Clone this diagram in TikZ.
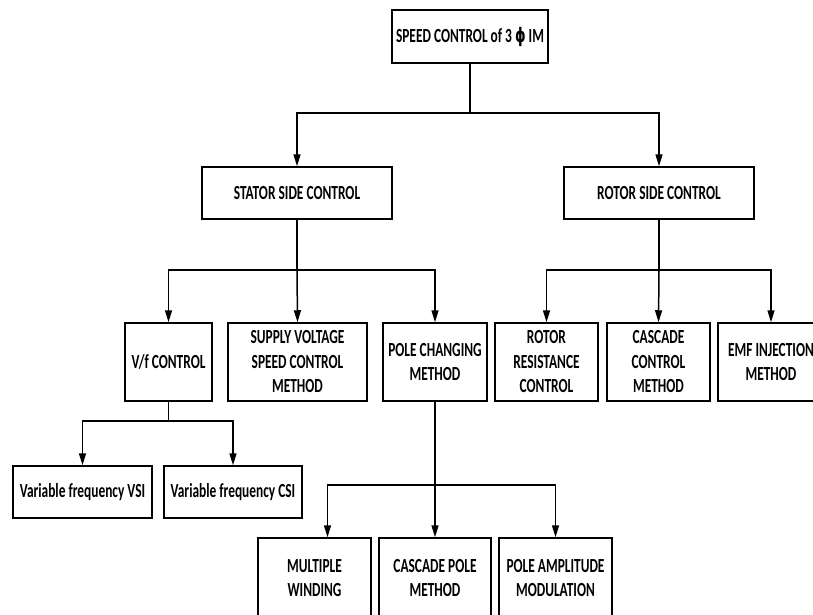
\documentclass[tikz,border=0pt]{standalone}
\usepackage{fontspec}
\usetikzlibrary{arrows.meta}
\newfontfamily\boxfont{Carlito}[FakeStretch=0.67]
\newfontfamily\symfont{DejaVu Sans}[FakeStretch=0.67]
\tikzset{
  box/.style={draw, line width=1.5pt, fill=white, align=center, inner sep=1pt,
    font=\boxfont\bfseries\fontsize{20}{24.5}\selectfont},
  link/.style={line width=1.5pt},
  arr/.style={link, -{Triangle[length=12pt,width=7pt]}}
}
\begin{document}
\begin{tikzpicture}[x=1pt,y=-1pt]
\useasboundingbox (0,0) rectangle (813,615);
\clip (0,0) rectangle (813,615);
\fill[white] (0,0) rectangle (813,615);

% root
\node[box, minimum width=156pt, minimum height=53pt] (root) at (470,36.5) {SPEED CONTROL of 3 {\symfont\bfseries ϕ} IM};

% two main branches
\node[box, minimum width=190pt, minimum height=52pt] (stator) at (297,193) {STATOR SIDE CONTROL};
\node[box, minimum width=190pt, minimum height=52pt] (rotor) at (659,193) {ROTOR SIDE CONTROL};

% stator side methods
\node[box, minimum width=87pt, minimum height=78pt] (vf) at (168.5,362) {V/f CONTROL};
\node[box, minimum width=139pt, minimum height=78pt] (supply) at (297.5,362) {SUPPLY VOLTAGE\\SPEED CONTROL\\METHOD};
\node[box, minimum width=104pt, minimum height=78pt] (pole) at (435,362) {POLE CHANGING\\METHOD};

% rotor side methods
\node[box, minimum width=103pt, minimum height=78pt] (rres) at (546.5,362) {ROTOR\\RESISTANCE\\CONTROL};
\node[box, minimum width=103pt, minimum height=78pt] (casc) at (658.5,362) {CASCADE\\CONTROL\\METHOD};
\node[box, minimum width=106pt, minimum height=78pt] (emf) at (771,362) {EMF INJECTION\\METHOD};

% V/f variants
\node[box, minimum width=139pt, minimum height=52pt] (vsi) at (82.5,492) {\mdseries\bfseries Variable frequency VSI};
\node[box, minimum width=138pt, minimum height=52pt] (csi) at (233,492) {Variable frequency CSI};

% pole changing variants
\node[box, minimum width=113pt, minimum height=80pt] (mw) at (314.5,578) {MULTIPLE\\WINDING};
\node[box, minimum width=112pt, minimum height=80pt] (cpm) at (435,578) {CASCADE POLE\\METHOD};
\node[box, minimum width=113pt, minimum height=80pt] (pam) at (555.5,578) {POLE AMPLITUDE\\MODULATION};

% junction points
\coordinate (j0) at (root.south |- 0,113);
\coordinate (j1) at (stator.south |- 0,270);
\coordinate (j2) at (rotor.south |- 0,270);
\coordinate (j3) at (vf.south |- 0,421);
\coordinate (j4) at (pole.south |- 0,485);
\coordinate (mwin) at ([xshift=13pt]mw.north);

% connectors
\draw[link] (root.south) -- (j0);
\draw[arr] (j0) -| (stator.north);
\draw[arr] (j0) -| (rotor.north);

\draw[link] (stator.south) -- (j1);
\draw[arr] (j1) -| (vf.north);
\draw[arr] (j1) -- (supply.north);
\draw[arr] (j1) -| (pole.north);

\draw[link] (rotor.south) -- (j2);
\draw[arr] (j2) -| (rres.north);
\draw[arr] (j2) -- (casc.north);
\draw[arr] (j2) -| (emf.north);

\draw[link] (vf.south) -- (j3);
\draw[arr] (j3) -| (vsi.north);
\draw[arr] (j3) -| (csi.north);

\draw[link] (pole.south) -- (j4);
\draw[arr] (j4) -| (mwin);
\draw[arr] (j4) -- (cpm.north);
\draw[arr] (j4) -| (pam.north);
\end{tikzpicture}
\end{document}
